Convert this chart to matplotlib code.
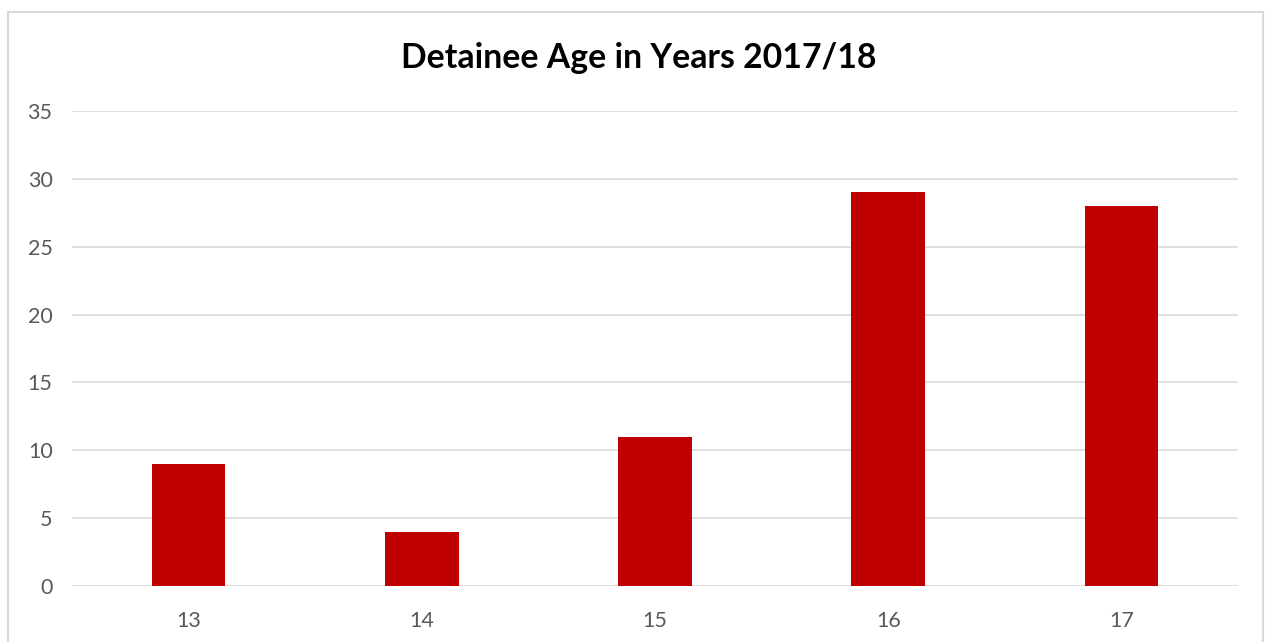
import matplotlib

matplotlib.use("Agg")
import matplotlib.pyplot as plt
from matplotlib.patches import Rectangle

ages = ["13", "14", "15", "16", "17"]
counts = [9, 4, 11, 29, 28]
y_ticks = [0, 5, 10, 15, 20, 25, 30, 35]

plt.rcParams["font.family"] = ["Lato", "DejaVu Sans"]

fig = plt.figure(figsize=(12.68, 6.42), dpi=100)
ax = fig.add_axes([72 / 1268, 1 - 586 / 642, (1238 - 72) / 1268, (586 - 111) / 642])

# outer chart frame, open at the bottom like the cropped screenshot
fig.patches.append(
    Rectangle((8 / 1268, -0.05), (1263 - 8) / 1268, 1.05 - 12 / 642,
              transform=fig.transFigure, fill=False, edgecolor="#d9d9d9", linewidth=1.5)
)

x = range(len(ages))
ax.bar(x, counts, width=0.315, color="#c00000", zorder=3)

ax.set_xlim(-0.5, len(ages) - 0.5)
ax.set_ylim(0, 35)
ax.set_yticks(y_ticks)
ax.set_xticks(list(x))
ax.set_xticklabels(ages)
ax.grid(axis="y", color="#d9d9d9", linewidth=1.2, zorder=0)
for spine in ax.spines.values():
    spine.set_visible(False)
ax.tick_params(axis="both", length=0, labelsize=15.5, colors="#595959")
ax.tick_params(axis="y", pad=14)
ax.tick_params(axis="x", pad=18)

fig.text((402 + 875) / 2 / 1268, 1 - 58 / 642, "Detainee Age in Years 2017/18",
         ha="center", va="center", fontsize=24.3, fontweight="bold", color="black")

fig.savefig("out.png", dpi=100)
